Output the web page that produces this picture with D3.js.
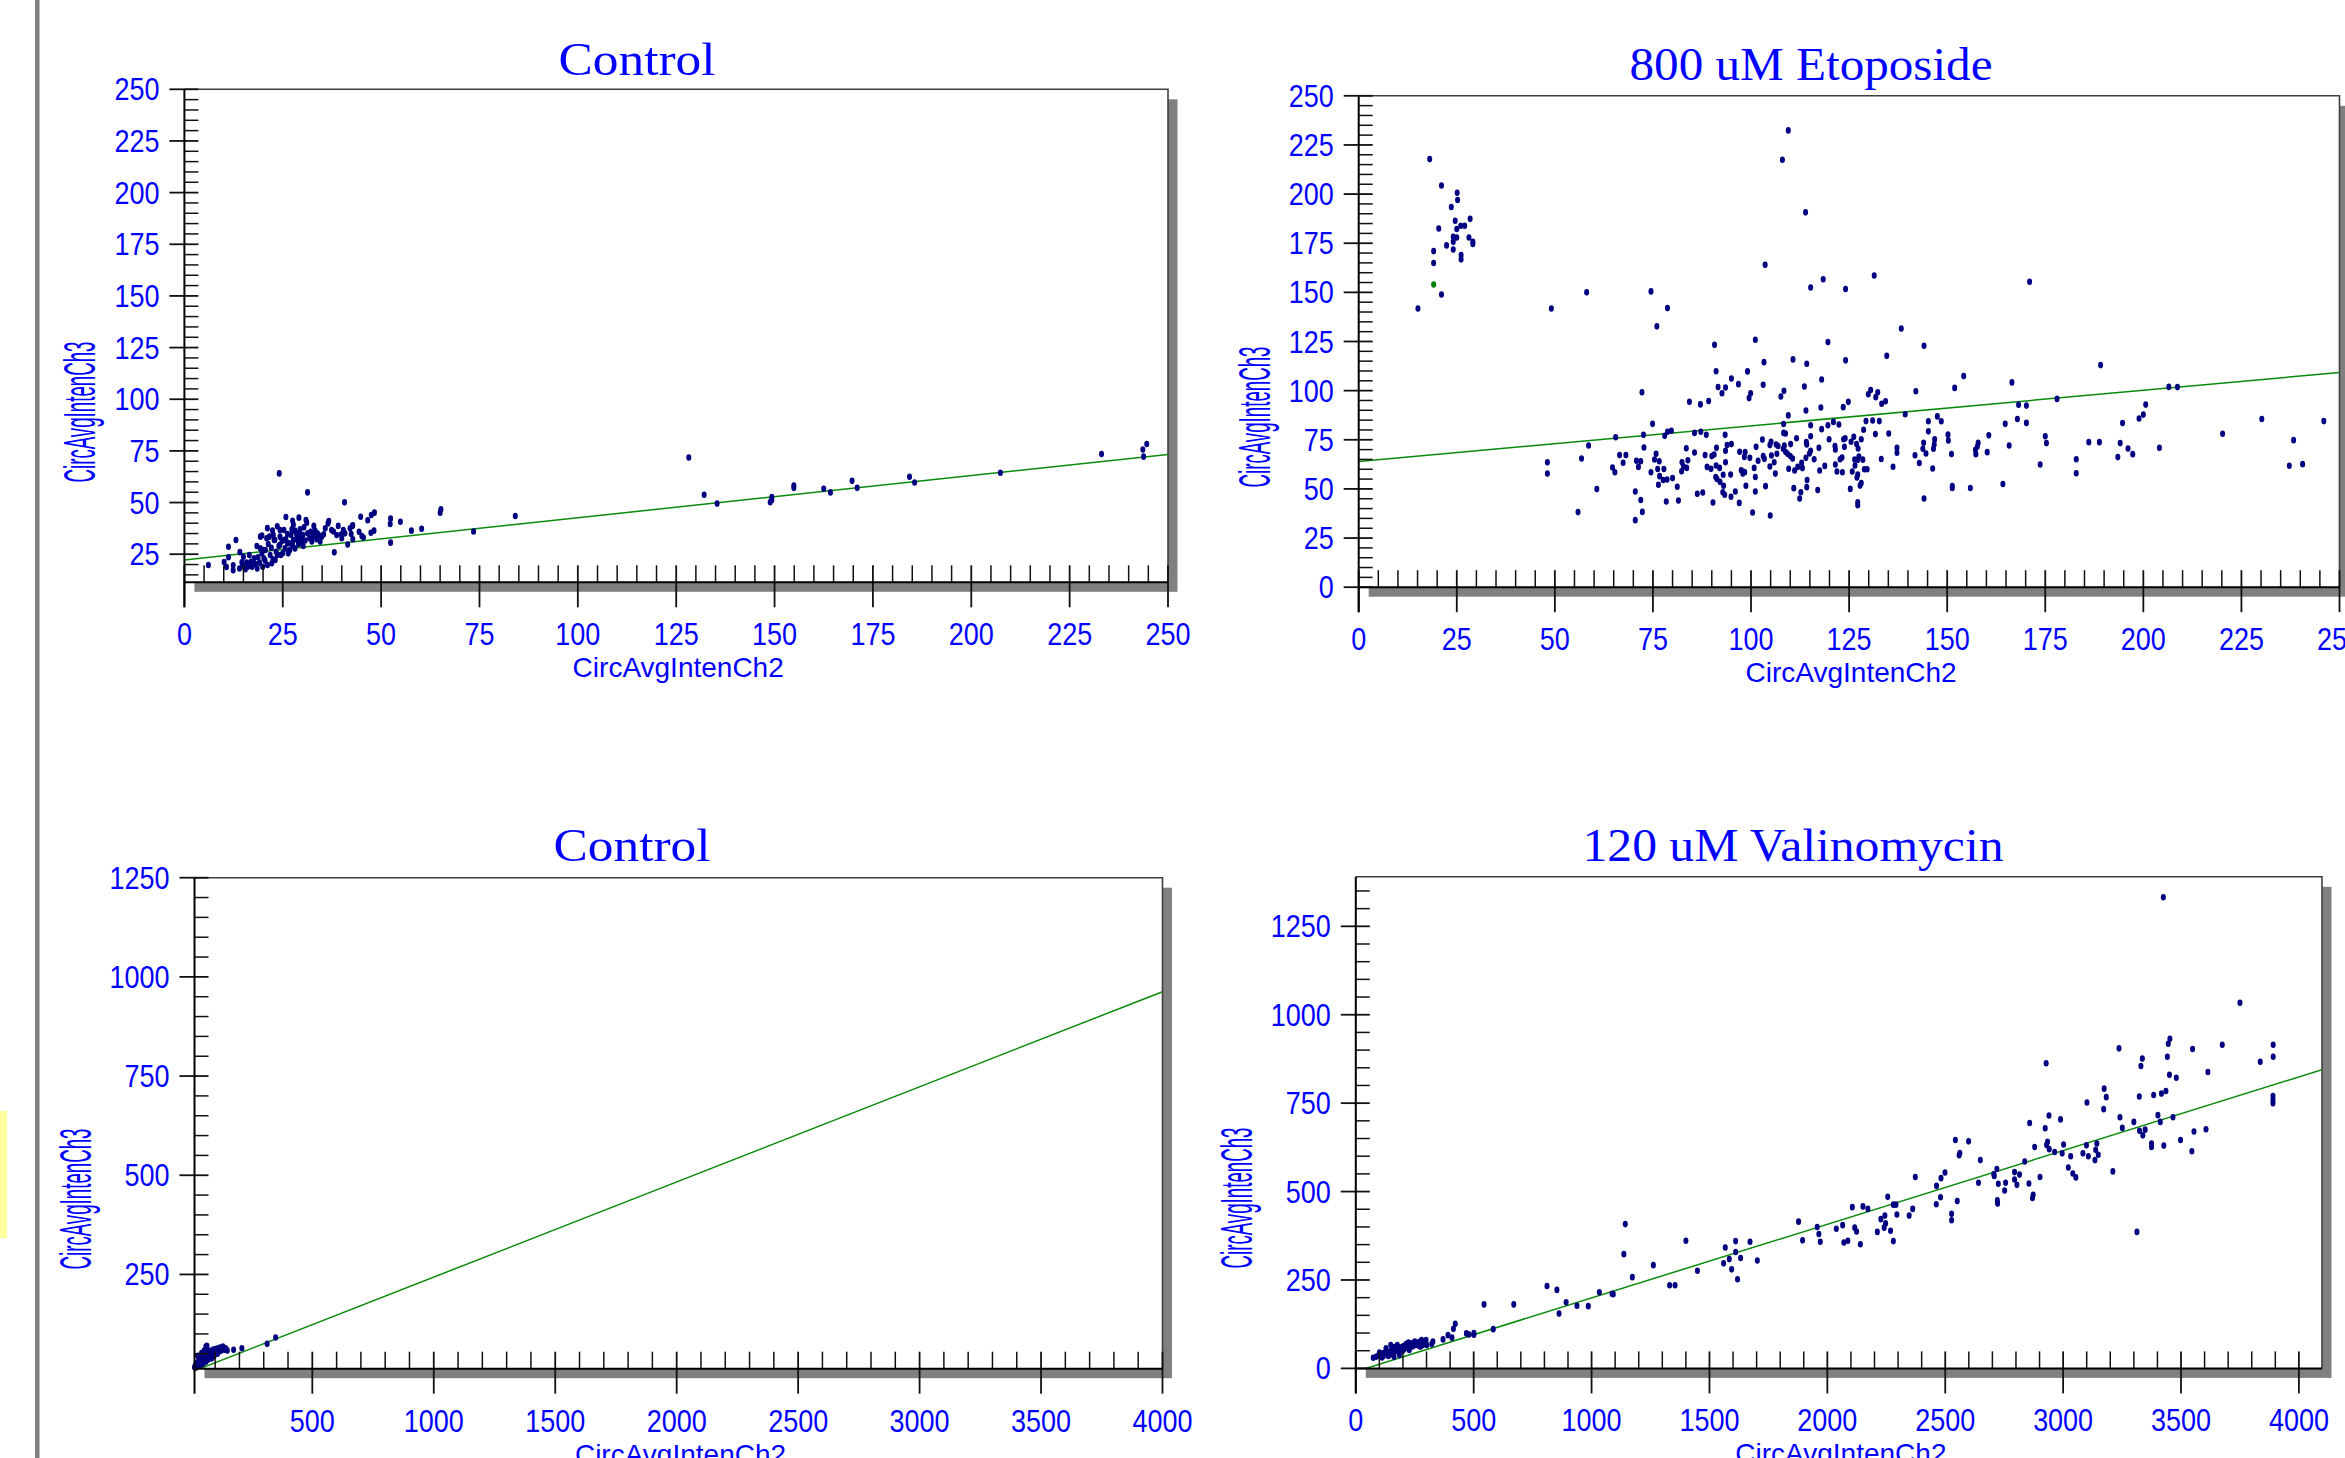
<!DOCTYPE html>
<html>
<head>
<meta charset="utf-8">
<script src="https://cdn.jsdelivr.net/npm/d3@7/dist/d3.min.js"></script>
<style>
  html, body { margin: 0; padding: 0; background: #fff; overflow: hidden; }
</style>
</head>
<body>
<svg id="chart" width="2345" height="1458"></svg>
<script>
// ---- data ----
// Control (top, 0-250 scale): [CircAvgIntenCh2, CircAvgIntenCh3]
const ctrlTopPts = [
  [24.1,64.1],[31.3,54.9],[40.7,50.1],[6.1,19.8],[11.2,28.6],[13.1,31.9],[14.1,26.0],[38.1,25.9],
  [52.4,30.6],[52.3,39.6],[52.4,42.2],[54.9,40.7],[57.7,36.4],[60.3,37.3],[65.0,45.1],[65.2,46.7],
  [73.5,36.0],[84.1,43.5],[44.8,43.1],[46.6,41.4],[47.5,44.0],[48.3,45.1],[45.5,33.1],[44.4,35.9],
  [47.4,35.4],[48.2,36.4],[41.5,29.7],[42.7,38.7],[42.4,34.8],[42.8,32.2],[45.1,33.8],[39.1,38.7],
  [36.7,41.1],[36.5,39.9],[35.8,37.5],[37.9,36.0],[39.9,34.6],[40.0,32.7],[40.8,35.1],[35.4,34.6],
  [29.1,42.7],[27.5,41.2],[25.8,43.0],[30.9,41.5],[23.6,38.5],[22.4,36.4],[21.1,37.6],[19.3,33.5],
  [19.7,34.0],[10.1,21.2],[11.2,23.5],[10.7,18.8],[12.4,19.6],[12.4,17.2],[14.0,18.1],[14.6,21.1],
  [15.0,23.8],[15.5,17.7],[16.1,18.9],[16.9,21.3],[16.5,24.6],[17.7,23.0],[18.0,20.2],[18.5,18.1],
  [19.1,20.9],[19.7,25.4],[19.3,27.8],[20.2,23.0],[20.6,27.0],[21.1,19.8],[21.3,29.9],[21.8,24.6],
  [22.1,28.1],[22.5,22.5],[23.0,31.9],[23.3,26.2],[23.1,22.2],[24.0,29.0],[24.3,33.5],[24.5,24.6],
  [24.8,31.4],[25.3,36.7],[25.6,27.8],[25.8,32.2],[26.2,34.8],[26.4,25.4],[26.7,30.3],[27.1,34.3],
  [27.3,37.0],[27.7,31.9],[28.1,27.8],[28.4,35.4],[28.6,33.5],[29.0,29.9],[29.4,37.0],[29.6,32.5],
  [30.1,34.3],[30.2,29.0],[30.4,38.0],[30.7,31.6],[31.1,40.2],[31.3,35.1],[31.8,32.7],[32.1,35.9],
  [32.4,31.2],[32.8,34.3],[33.2,36.4],[33.6,32.2],[34.1,34.3],[34.5,31.1],[34.9,33.5],[26.8,27.0],
  [25.0,25.4],[23.6,24.6],[22.2,20.6],[20.5,21.9],[19.9,18.9],[18.7,23.5],[17.2,18.9],[15.8,20.9],
  [14.8,19.2],[21.6,33.5],[22.6,34.3],[24.3,29.5],[25.3,31.9],[26.2,30.3],[27.5,29.5],[28.7,31.9],
  [29.8,30.3],[29.2,34.8],[28.1,36.4],[32.4,32.7],[38.7,34.3],[40.4,36.7],[42.1,37.5],[42.8,39.0],
  [32.9,38.7],[33.8,35.1],[37.4,36.7],[27.7,39.4],[24.3,36.7],[20.1,27.0],[20.9,32.7],[18.4,29.0],
  [22.8,31.9],[128.2,71.8],[132.1,53.8],[135.4,49.5],[148.9,50.2],[149.3,52.7],[149.3,51.2],
  [154.9,57.1],[154.9,58.2],[162.5,56.7],[164.2,54.9],[169.7,60.5],[171.0,57.1],[184.3,62.5],
  [185.6,59.7],[207.4,64.4],[233.1,73.5],[243.8,72.2],[243.6,75.7],[244.6,78.3]
];

// 800 uM Etoposide
const etoPts = [
  [18.1,217.8],[21.1,204.4],[25.1,200.7],[25.2,197.0],[23.6,193.4],[28.4,187.4],[24.6,186.4],[26.0,183.9],
  [27.0,183.9],[25.0,182.2],[20.4,182.5],[24.1,178.3],[25.0,177.9],[28.1,177.9],[24.1,175.7],[29.1,175.7],
  [29.1,174.6],[22.4,173.9],[24.1,171.8],[26.1,169.0],[26.1,166.8],[19.1,171.0],[19.1,164.9],[21.1,148.9],
  [15.1,141.8],[49.1,141.8],[58.1,150.0],[74.5,150.5],[78.7,142.0],[76.0,132.7],[90.7,123.3],[101.1,125.9],
  [119.6,124.7],[124.1,151.7],[118.4,156.7],[115.2,152.5],[103.6,164.0],[113.9,190.7],[108.0,217.5],[109.5,232.4],
  [48.1,63.6],[48.1,57.8],[55.9,38.2],[56.8,65.5],[58.6,72.1],[60.7,49.9],[65.5,76.3],[64.7,60.9],
  [65.3,58.5],[66.5,67.2],[67.4,63.3],[68.1,67.2],[70.5,48.7],[70.5,34.1],[71.9,44.4],[72.3,38.3],
  [72.2,99.2],[72.6,77.5],[72.7,71.1],[70.8,64.3],[71.3,61.2],[71.9,64.1],[74.9,83.1],[74.5,58.5],
  [75.4,65.0],[75.8,67.9],[76.2,60.1],[76.6,64.1],[76.4,52.1],[76.7,56.5],[77.8,60.1],[77.6,54.5],
  [78.0,77.0],[78.7,79.1],[79.7,79.6],[78.6,54.8],[80.0,55.5],[78.4,43.6],[81.2,51.1],[81.5,44.1],
  [82.4,63.6],[82.3,59.0],[82.8,61.4],[83.6,60.7],[83.9,64.6],[83.5,70.7],[84.3,94.3],[85.6,78.5],
  [85.6,68.5],[87.1,93.0],[87.2,79.1],[86.3,47.5],[87.7,48.2],[88.6,77.5],[88.3,67.2],[88.8,61.2],
  [89.2,94.7],[89.8,60.2],[90.0,66.7],[90.6,67.5],[90.3,43.1],[91.1,109.9],[91.2,70.9],[91.1,61.9],
  [91.0,56.1],[91.6,101.8],[91.3,55.1],[92.0,60.7],[92.1,53.6],[92.6,98.7],[92.9,57.2],[93.0,51.6],
  [92.8,48.3],[93.3,47.0],[93.5,101.6],[93.4,77.5],[93.5,63.6],[93.5,69.4],[93.9,72.3],[94.8,57.3],
  [95.0,106.2],[95.0,72.8],[94.9,46.0],[96.0,48.7],[96.8,103.3],[97.0,42.9],[97.1,68.9],[97.5,59.5],
  [97.9,57.8],[98.1,58.7],[98.4,58.5],[98.5,68.7],[98.3,66.3],[98.7,51.6],[99.1,109.8],[99.5,96.2],
  [99.9,98.7],[99.7,65.8],[100.4,38.0],[100.8,60.7],[101.1,56.1],[101.1,48.7],[101.3,71.4],[101.8,64.3],
  [102.9,75.1],[103.1,103.0],[103.3,114.5],[103.1,66.7],[103.4,65.3],[103.7,51.4],[104.8,72.3],[104.8,61.4],
  [104.9,36.5],[105.2,67.0],[105.1,74.0],[105.9,63.6],[106.2,57.8],[106.4,72.6],[106.6,67.9],[106.9,71.8],
  [107.6,97.0],[108.4,99.9],[108.3,83.0],[108.3,78.5],[108.8,78.2],[108.5,72.1],[108.2,70.4],[108.8,68.9],
  [109.5,87.4],[109.3,67.9],[110.1,72.8],[110.0,66.7],[110.6,65.5],[109.6,60.2],[110.7,115.9],[110.9,50.4],
  [111.6,75.8],[111.1,59.4],[111.9,61.2],[112.4,45.1],[112.7,48.3],[113.1,60.6],[112.9,63.3],[113.6,102.1],
  [114.0,89.9],[114.2,113.7],[114.1,73.8],[114.2,72.6],[114.0,65.8],[114.3,54.5],[114.2,50.9],[114.9,68.0],
  [115.2,82.4],[115.2,76.8],[115.2,69.4],[116.1,65.1],[117.0,49.4],[117.3,70.9],[117.5,59.4],[117.8,91.4],
  [118.0,105.7],[118.0,80.4],[118.8,61.7],[119.6,82.4],[119.9,75.3],[121.0,84.1],[121.5,70.1],[121.4,71.8],
  [121.5,62.4],[121.9,58.9],[122.4,82.8],[122.7,65.1],[123.2,66.0],[123.3,58.5],[123.5,91.6],[123.6,75.3],
  [123.8,71.4],[124.0,75.8],[124.1,115.4],[124.8,94.3],[125.3,50.0],[125.5,74.0],[125.8,58.9],[126.2,76.5],
  [126.4,65.0],[126.5,61.9],[126.9,72.8],[127.0,55.8],[127.2,41.7],[127.3,70.6],[127.2,64.8],[127.8,51.7],
  [131.4,158.6],[171.0,155.4],[138.3,131.6],[144.1,122.8],[134.6,117.7],[189.1,113.0],[154.2,107.4],[151.9,101.4],
  [166.5,104.2],[142.0,99.7],[129.9,98.2],[130.5,100.3],[131.8,96.7],[132.3,99.2],[133.3,93.3],[134.3,94.6],
  [139.3,88.0],[178.0,95.8],[168.2,92.8],[170.2,92.4],[167.9,85.6],[170.2,83.6],[164.8,83.1],[175.0,76.8],
  [175.3,73.3],[173.7,62.4],[182.9,65.1],[182.9,58.0],[186.1,73.8],[188.8,73.8],[194.1,73.3],[194.7,83.5],
  [193.5,66.2],[196.1,70.6],[197.3,67.7],[198.9,85.8],[200.0,87.8],[200.6,92.9],[206.5,101.9],[208.7,101.8],
  [204.1,70.9],[220.2,78.1],[230.2,85.6],[238.3,74.8],[237.2,61.8],[240.6,62.6],[246.0,84.5],[160.6,77.3],
  [160.2,68.7],[157.9,73.4],[157.7,71.6],[157.2,69.9],[157.3,67.7],[165.8,72.1],[164.2,52.5],[155.9,50.5],
  [151.3,51.5],[151.3,50.5],[151.1,67.8],[150.2,77.6],[150.3,74.6],[147.5,86.9],[148.5,84.4],[145.2,84.4],
  [145.2,79.3],[146.8,75.2],[146.7,72.6],[146.5,70.4],[144.0,73.5],[143.8,70.4],[144.6,68.0],[146.3,60.4],
  [144.1,45.1],[142.9,63.2],[141.8,67.1],[137.2,70.9],[137.2,68.4],[136.2,61.3],[135.1,78.2],[133.2,65.2],
  [132.7,84.5],[131.0,84.8],[131.7,77.9],[129.3,84.5],[128.7,80.1],[128.1,75.3],[127.5,66.5],[128.5,64.9],
  [129.6,60.0],[128.9,60.0],[128.1,53.0],[127.2,57.3],[127.2,43.2]
];
const etoGreen = [[19.1,154.0]];

// Control (bottom, 0-4000 scale)
const ctrlBotPts = [
  [15,16],[18,20],[20,15],[22,24],[25,18],[27,28],[30,22],[32,30],[35,26],[36,34],[38,20],[40,30],
  [42,38],[45,28],[46,42],[48,34],[50,25],[52,40],[55,32],[57,46],[58,36],[60,42],[62,30],[64,50],
  [65,38],[68,44],[70,35],[72,52],[74,40],[75,46],[78,56],[80,42],[82,48],[85,38],[86,54],[88,46],
  [90,60],[92,50],[95,44],[96,56],[98,48],[100,62],[104,52],[106,58],[110,50],[112,64],[115,56],
  [118,60],[120,66],[125,58],[128,62],[132,68],[138,60],[144,64],[150,58],[176,60],[210,64],[314,75],
  [349,91],[28,45],[44,52],[55,58],[33,40],[68,62],[62,68],[66,70]
];

// 120 uM Valinomycin
const valPts = [
  [1143,408],[1137,323],[1173,258],[1262,292],[1400,361],[1449,276],[1331,235],[1354,235],
  [1567,342],[1611,360],[1584,309],[1611,329],[1632,312],[1560,297],[1594,280],[1619,252],
  [1672,358],[1703,305],[1878,415],[1895,362],[1957,400],[1964,380],[1970,358],[2038,395],
  [2065,405],[2070,356],[2087,361],[1033,215],[1092,210],[1087,211],[811,233],[853,222],
  [862,155],[892,187],[938,177],[986,176],[544,181],[670,181],[583,111],[501,100],
  [501,95],[480,96],[469,99],[414,112],[422,126],[408,87],[391,94],[370,82],[327,76],[322,69],
  [74,30],[86,33],[96,36],[105,38],[114,43],[124,45],[128,57],[134,41],[142,47],[148,66],
  [152,52],[159,43],[166,50],[173,54],[180,47],[187,60],[194,52],[202,63],[209,57],[216,62],
  [223,73],[227,52],[233,65],[241,62],[247,69],[255,66],[265,69],[272,76],[279,80],[284,66],
  [289,71],[298,80],[301,66],[117,35],[138,35],[156,60],[176,66],[199,50],[213,69],[237,71],
  [258,73],[275,62],[100,45],[111,31],[162,33],[185,38],[145,39],[170,62],[204,54],[224,60],
  [250,76],[269,63],[292,74],
  [3425,1332],[3750,1034],[2106,456],[2116,398],[2124,387],[2140,351],[2151,458],[2172,451],
  [2212,386],[2227,422],[2241,398],[2244,432],[2247,410],[2256,485],[2268,389],[2280,360],
  [2280,463],[2291,463],[2295,435],[2347,432],[2362,451],[2373,541],[2462,464],[2463,516],
  [2480,484],[2482,538],[2499,554],[2527,437],[2527,419],[2543,646],[2551,473],[2559,603],
  [2562,609],[2599,642],[2641,525],[2649,589],[2706,549],[2708,544],[2719,564],[2725,522],
  [2721,475],[2722,466],[2752,503],[2756,525],[2794,555],[2794,534],[2804,519],[2815,548],
  [2837,585],[2855,523],[2858,694],[2870,482],[2873,491],[2879,626],[2902,541],[2924,679],
  [2928,863],[2930,632],[2934,641],[2940,715],[2941,620],[2964,612],[2989,704],[2996,608],
  [3002,633],[3022,568],[3032,600],[3041,551],[3054,540],[3084,608],[3099,631],[3101,752],
  [3107,600],[3135,589],[3138,618],[3143,636],[3149,604],[3172,733],[3174,791],[3183,767],
  [3211,557],[3237,905],[3241,710],[3251,680],[3300,697],[3313,386],[3323,769],[3324,672],
  [3330,855],[3336,876],[3338,659],[3348,675],[3375,636],[3375,626],[3384,773],[3402,716],
  [3412,697],[3417,777],[3427,630],[3436,784],[3442,881],[3446,918],[3453,932],[3451,830],
  [3466,710],[3480,822],[3498,646],[3546,614],[3549,903],[3555,670],[3606,676],[3614,838],
  [3675,915],[3836,867],[3891,915],[3891,881],[3890,770],[3890,759],[3890,750]
];

// regression lines: [intercept, slope]
const fitCtrlTop = [22.2, 0.2044];
const fitEto = [64.0, 0.181];
const fitCtrlBot = [3.5, 0.2398];
const fitVal = [-9, 0.2083];

// tick labels
const ticks250 = [0, 25, 50, 75, 100, 125, 150, 175, 200, 225, 250];
const ticks250NoZero = [25, 50, 75, 100, 125, 150, 175, 200, 225, 250];
const ticks4000 = [0, 500, 1000, 1500, 2000, 2500, 3000, 3500, 4000];
const ticks4000NoZero = [500, 1000, 1500, 2000, 2500, 3000, 3500, 4000];
const ticks1250 = [0, 250, 500, 750, 1000, 1250];
const ticks1250NoZero = [250, 500, 750, 1000, 1250];

const titles = ["Control", "800 uM Etoposide", "Control", "120 uM Valinomycin"];
const xTitle = "CircAvgIntenCh2";
const yTitle = "CircAvgIntenCh3";

// ---- layout ----
const panels = [
  { id: 1, title: titles[0], titleX: 637, titleY: 75, titleW: 157,
    left: 184.4, right: 1168, top: 89.3, bottom: 582.3,
    xDomain: [0, 250], yDomain: [11.4, 250], xTicks: ticks250, yTicks: ticks250NoZero,
    xMinor: 5, yMinor: 5, pts: ctrlTopPts, green: [], fit: fitCtrlTop,
    yTitleX: 95, yTitleY: 412 },
  { id: 2, title: titles[1], titleX: 1811, titleY: 80, titleW: 363,
    left: 1358.7, right: 2339.5, top: 95.8, bottom: 587.2,
    xDomain: [0, 250], yDomain: [0, 250], xTicks: ticks250, yTicks: ticks250,
    xMinor: 5, yMinor: 5, pts: etoPts, green: etoGreen, fit: fitEto,
    yTitleX: 1270, yTitleY: 417 },
  { id: 3, title: titles[2], titleX: 632, titleY: 861, titleW: 157,
    left: 194.5, right: 1162.5, top: 877.7, bottom: 1368.7,
    xDomain: [15, 4000], yDomain: [12.4, 1250], xTicks: ticks4000NoZero, yTicks: ticks1250NoZero,
    xMinor: 100, yMinor: 50, pts: ctrlBotPts, green: [], fit: fitCtrlBot,
    yTitleX: 91, yTitleY: 1199 },
  { id: 4, title: titles[3], titleX: 1793, titleY: 861, titleW: 421,
    left: 1355.8, right: 2322, top: 876.8, bottom: 1368.4,
    xDomain: [0, 4098], yDomain: [0, 1390], xTicks: ticks4000, yTicks: ticks1250,
    xMinor: 100, yMinor: 50, pts: valPts, green: [], fit: fitVal,
    yTitleX: 1252, yTitleY: 1198 }
];

const svg = d3.select("#chart");
const BLUE = "#0000ff";
const SANS = "'Liberation Sans', Arial, sans-serif";
const SERIF = "'Liberation Serif', 'Times New Roman', serif";

svg.append("rect").attr("width", 2345).attr("height", 1458).attr("fill", "#fff");

// page decorations at the left edge
svg.append("rect").attr("x", 35).attr("y", 0).attr("width", 4.5).attr("height", 1458).attr("fill", "#808080");
svg.append("rect").attr("x", 0).attr("y", 1111).attr("width", 7).attr("height", 127).attr("fill", "#ffff9c");

function drawPanel(p) {
  const x = d3.scaleLinear().domain(p.xDomain).range([p.left, p.right]);
  const y = d3.scaleLinear().domain(p.yDomain).range([p.bottom, p.top]);
  const g = svg.append("g");
  const w = p.right - p.left, h = p.bottom - p.top;

  // drop shadow + white plot area
  g.append("rect").attr("x", p.left + 10).attr("y", p.top + 10)
    .attr("width", w - 0.5).attr("height", h - 0.5).attr("fill", "#808080");
  g.append("rect").attr("x", p.left).attr("y", p.top)
    .attr("width", w).attr("height", h).attr("fill", "#fff");
  g.append("path").attr("d", `M${p.left},${p.top}H${p.right}V${p.bottom}`)
    .attr("fill", "none").attr("stroke", "#404040").attr("stroke-width", 1.6);

  const clipId = "clip" + p.id;
  svg.append("clipPath").attr("id", clipId).append("rect")
    .attr("x", p.left).attr("y", p.top).attr("width", w).attr("height", h);

  // regression line
  const [a, b] = p.fit;
  const x0 = p.xDomain[0], x1 = p.xDomain[1];
  g.append("line").attr("clip-path", `url(#${clipId})`)
    .attr("x1", x(x0)).attr("y1", y(a + b * x0))
    .attr("x2", x(x1)).attr("y2", y(a + b * x1))
    .attr("stroke", "#0a8a0a").attr("stroke-width", 1.5);

  // points
  g.append("g").selectAll("ellipse").data(p.pts).join("ellipse")
    .attr("cx", d => x(d[0])).attr("cy", d => y(d[1]))
    .attr("rx", 2.5).attr("ry", 3.3).attr("fill", "#000080");
  g.append("g").selectAll("ellipse").data(p.green).join("ellipse")
    .attr("cx", d => x(d[0])).attr("cy", d => y(d[1]))
    .attr("rx", 2.5).attr("ry", 3.3).attr("fill", "#008000");

  // y ticks
  const yMinor = d3.range(Math.ceil(p.yDomain[0] / p.yMinor) * p.yMinor, p.yDomain[1] + 1e-6, p.yMinor)
    .filter(v => !p.yTicks.includes(v));
  g.append("g").selectAll("line").data(yMinor).join("line")
    .attr("x1", p.left).attr("x2", p.left + 14)
    .attr("y1", d => y(d)).attr("y2", d => y(d))
    .attr("stroke", "#111").attr("stroke-width", 1.5);
  g.append("g").selectAll("line").data(p.yTicks).join("line")
    .attr("x1", p.left - 15).attr("x2", p.left + 14)
    .attr("y1", d => y(d)).attr("y2", d => y(d))
    .attr("stroke", "#111").attr("stroke-width", 1.8);
  g.append("g").selectAll("text").data(p.yTicks).join("text")
    .attr("transform", d => `translate(${p.left - 25},${y(d) + 11}) scale(0.87,1)`)
    .attr("text-anchor", "end").attr("font-family", SANS).attr("font-size", 31)
    .attr("fill", BLUE).text(d => d);

  // x ticks
  const xMinor = d3.range(Math.ceil(p.xDomain[0] / p.xMinor) * p.xMinor, p.xDomain[1] + 1e-6, p.xMinor)
    .filter(v => !p.xTicks.includes(v) && v > p.xDomain[0]);
  g.append("g").selectAll("line").data(xMinor).join("line")
    .attr("x1", d => x(d)).attr("x2", d => x(d))
    .attr("y1", p.bottom - 17).attr("y2", p.bottom)
    .attr("stroke", "#111").attr("stroke-width", 1.5);
  g.append("g").selectAll("line").data(p.xTicks).join("line")
    .attr("x1", d => x(d)).attr("x2", d => x(d))
    .attr("y1", p.bottom - 17).attr("y2", p.bottom + 25)
    .attr("stroke", "#111").attr("stroke-width", 1.8);
  g.append("g").selectAll("text").data(p.xTicks).join("text")
    .attr("transform", d => `translate(${x(d)},${p.bottom + 63}) scale(0.87,1)`)
    .attr("text-anchor", "middle").attr("font-family", SANS).attr("font-size", 31)
    .attr("fill", BLUE).text(d => d);

  // axis lines
  g.append("line").attr("x1", p.left).attr("x2", p.left)
    .attr("y1", p.top).attr("y2", p.bottom + 25)
    .attr("stroke", "#000").attr("stroke-width", 2);
  g.append("line").attr("x1", p.left).attr("x2", p.right)
    .attr("y1", p.bottom).attr("y2", p.bottom)
    .attr("stroke", "#000").attr("stroke-width", 2);

  // titles
  g.append("text").attr("x", p.titleX).attr("y", p.titleY)
    .attr("text-anchor", "middle").attr("font-family", SERIF).attr("font-size", 46)
    .attr("textLength", p.titleW).attr("lengthAdjust", "spacingAndGlyphs")
    .attr("fill", BLUE).text(p.title);
  g.append("text").attr("x", (p.left + p.right) / 2 + 2).attr("y", p.bottom + 95)
    .attr("text-anchor", "middle").attr("font-family", SANS).attr("font-size", 28)
    .attr("fill", BLUE).text(xTitle);
  g.append("text")
    .attr("transform", `translate(${p.yTitleX},${p.yTitleY}) rotate(-90)`)
    .attr("text-anchor", "middle").attr("font-family", SANS).attr("font-size", 44)
    .attr("textLength", 141).attr("lengthAdjust", "spacingAndGlyphs")
    .attr("fill", BLUE).text(yTitle);
}

panels.forEach(drawPanel);
</script>
</body>
</html>
